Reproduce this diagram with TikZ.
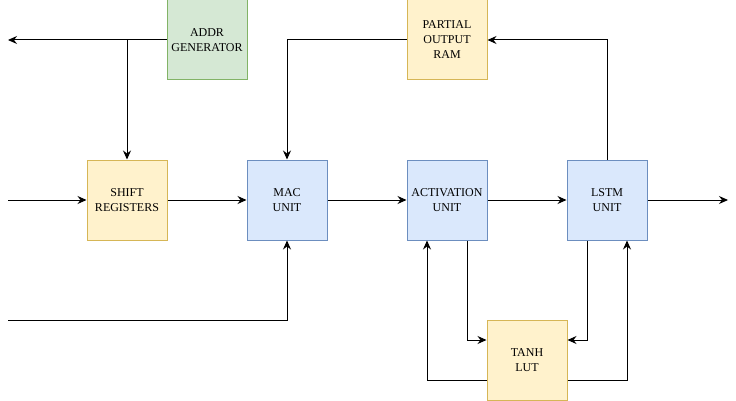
\documentclass[tikz,border=0pt]{standalone}
\usepackage{fontspec}
\setmainfont{Liberation Serif}
\usetikzlibrary{arrows.meta}
\definecolor{grnF}{HTML}{D5E8D4}
\definecolor{grnL}{HTML}{82B366}
\definecolor{ylwF}{HTML}{FFF2CC}
\definecolor{ylwL}{HTML}{D6B656}
\definecolor{bluF}{HTML}{DAE8FC}
\definecolor{bluL}{HTML}{6C8EBF}
\tikzset{
  blk/.style={draw, line width=1pt, minimum size=80pt, inner sep=0pt,
    align=center, font=\rmfamily\fontsize{12}{15}\selectfont},
  wire/.style={line width=1pt, -{Stealth[length=9pt,width=8pt,inset=3pt]}},
}
\newcommand*{\PlaceBlocks}[1]{% #1 = list of name/x/y/color/text
  \foreach \nm/\x/\y/\clr/\txt in {#1} {
    \node [blk, draw=\clr L, fill=\clr F] (\nm) at (\x,\y) {\txt};
    }%
}

\begin{document}
\begin{tikzpicture}[x=1pt, y=-1pt]
  \useasboundingbox (0,0) rectangle (736,401);
  \PlaceBlocks{addr/207/40/grn/{ADDR\\GENERATOR}, ram/447/40/ylw/{PARTIAL\\OUTPUT\\RAM}}
  \PlaceBlocks{shift/127/200/ylw/{SHIFT\\REGISTERS}, mac/287/200/blu/{MAC\\UNIT}}
  \PlaceBlocks{act/447/200/blu/{ACTIVATION\\UNIT}, lstm/607/200/blu/{LSTM\\UNIT}}
  \PlaceBlocks{tanh/527/360/ylw/{TANH\\LUT}}
  % free ends
  \coordinate (addrout) at (8,40);
  \coordinate (shiftin) at (8,200);
  \coordinate (macin) at (8,320);
  \coordinate (lstmout) at (728,200);
  % address path
  \draw[wire] (addr.west) -- (addrout);
  \draw[wire] (addr.west -| shift.north) -- (shift.north);
  % main data path
  \draw[wire] (shiftin) -- (shift);
  \draw[wire] (shift) -- (mac);
  \draw[wire] (macin) -| (mac.south);
  \draw[wire] (ram.west) -| (mac.north);
  \draw[wire] (mac) -- (act);
  \draw[wire] (act) -- (lstm);
  \draw[wire] (lstm) -- (lstmout);
  \draw[wire] (lstm.north) |- (ram.east);
  % lookup table loops
  \draw[wire] ([xshift=20pt]act.south) |- ([yshift=20pt]tanh.west);
  \draw[wire] ([yshift=-20pt]tanh.west) -| ([xshift=-20pt]act.south);
  \draw[wire] ([xshift=-20pt]lstm.south) |- ([yshift=20pt]tanh.east);
  \draw[wire] ([yshift=-20pt]tanh.east) -| ([xshift=20pt]lstm.south);
\end{tikzpicture}
\end{document}
